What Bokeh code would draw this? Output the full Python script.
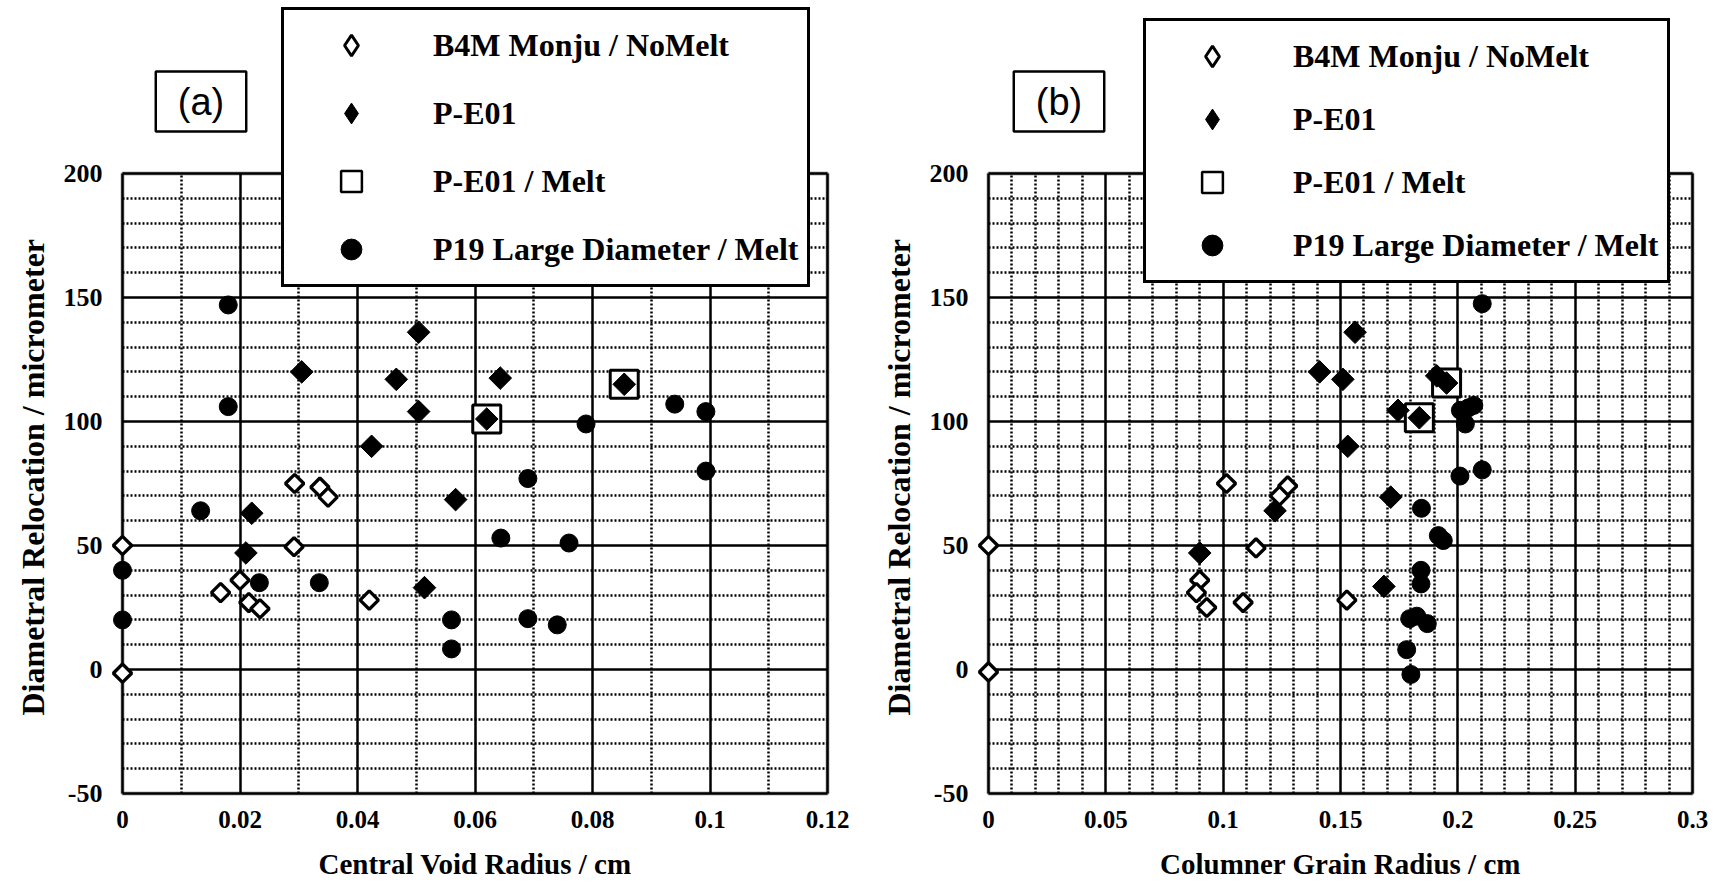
import math
from bokeh.plotting import figure
from bokeh.models import (ColumnDataSource, FixedTicker, Legend, LegendItem, Label, Range1d,
                          BoxAnnotation, Title)
from bokeh.layouts import row
from bokeh.embed import file_html
from bokeh.resources import INLINE

# ---------------- data : panel (a) Central Void Radius ----------------
a_b4m_x = [0, 0, 0.0293, 0.0336, 0.0350, 0.0292, 0.0200, 0.0167, 0.0215, 0.0234, 0.0420]
a_b4m_y = [50, -1.5, 75, 73.5, 69.5, 49.5, 36, 31, 27, 24.5, 28]

a_pe01_x = [0.0305, 0.0504, 0.0466, 0.0504, 0.0424, 0.0643, 0.0567, 0.0220, 0.0210, 0.0514, 0.0620, 0.0854]
a_pe01_y = [120, 136, 117, 104, 90, 117.5, 68.5, 63, 47, 33, 101, 115]

a_melt_x = [0.0620, 0.0854]
a_melt_y = [101, 115]

a_p19_x = [0.0180, 0.0180, 0.0133, 0, 0, 0.0233, 0.0335, 0.0560, 0.0560, 0.0690, 0.0740,
           0.0644, 0.0760, 0.0690, 0.0789, 0.0940, 0.0993, 0.0993]
a_p19_y = [147, 106, 64, 40, 20, 35, 35, 20, 8.3, 20.5, 18, 53, 51, 77, 99, 107, 104, 80]

# ---------------- data : panel (b) Columner Grain Radius ----------------
b_b4m_x = [0, 0, 0.1014, 0.1275, 0.1240, 0.1140, 0.0900, 0.0886, 0.0930, 0.1085, 0.1527]
b_b4m_y = [50, -1, 75, 74, 70, 49, 36, 31, 25, 27, 28]

b_pe01_x = [0.1411, 0.1562, 0.1510, 0.1531, 0.1745, 0.1910, 0.1836, 0.1952, 0.1714, 0.1685, 0.1221, 0.0900]
b_pe01_y = [120, 136, 117, 90, 104.5, 118.4, 101.5, 115.5, 69.5, 33.5, 64, 47]

b_melt_x = [0.1836, 0.1952]
b_melt_y = [101.5, 115.5]

b_p19_x = [0.2104, 0.2068, 0.2045, 0.2011, 0.2032, 0.2104, 0.2009, 0.1845, 0.1917, 0.1938,
           0.1843, 0.1843, 0.1795, 0.1825, 0.1870, 0.1782, 0.1800]
b_p19_y = [147.5, 106.5, 105.5, 104.5, 99, 80.5, 78, 65, 54, 52, 40, 34.5, 20.5, 21.5, 18.5, 8, -2]

# ---------------- axes ----------------
a_x_ticks = [0, 0.02, 0.04, 0.06, 0.08, 0.1, 0.12]
a_x_labels = ["0", "0.02", "0.04", "0.06", "0.08", "0.1", "0.12"]
a_x_minor = [0.01, 0.03, 0.05, 0.07, 0.09, 0.11]

b_x_ticks = [0, 0.05, 0.1, 0.15, 0.2, 0.25, 0.3]
b_x_labels = ["0", "0.05", "0.1", "0.15", "0.2", "0.25", "0.3"]
b_x_minor = [0.01, 0.02, 0.03, 0.04, 0.06, 0.07, 0.08, 0.09, 0.11, 0.12, 0.13, 0.14,
             0.16, 0.17, 0.18, 0.19, 0.21, 0.22, 0.23, 0.24, 0.26, 0.27, 0.28, 0.29]

y_ticks = [-50, 0, 50, 100, 150, 200]
y_labels = ["-50", "0", "50", "100", "150", "200"]
y_minor = [-40, -30, -20, -10, 10, 20, 30, 40, 60, 70, 80, 90,
           110, 120, 130, 140, 160, 170, 180, 190]

legend_labels = ["B4M Monju / NoMelt", "P-E01", "P-E01 / Melt", "P19 Large Diameter / Melt"]

SERIF = "Liberation Serif"

# layout (pixels)
BOX_H = 620      # height of the plotting box (-50 .. 200)
TOP_SPACE = 173  # free space above the box (legend / panel tag live here)
PAD = 8          # frame margin around the box
Y0, Y1 = -50, 200
NAN = float("nan")


def make_panel(tag, xlabel, x_ticks, x_labels, x_minor, x_end,
               b4m, pe01, melt, p19, box_w, border_left, border_right,
               leg_loc, leg_pad, leg_spacing, leg_gw, leg_stand, tag_x):
    xpx = x_end / box_w
    ypx = (Y1 - Y0) / BOX_H
    p = figure(frame_width=box_w + 2 * PAD, frame_height=BOX_H + PAD + TOP_SPACE,
               min_border_left=border_left, min_border_right=border_right,
               min_border_top=0, min_border_bottom=83,
               x_range=Range1d(-PAD * xpx, x_end + PAD * xpx),
               y_range=Range1d(Y0 - PAD * ypx, Y1 + TOP_SPACE * ypx),
               output_backend="svg", toolbar_location=None,
               background_fill_color="white", border_fill_color="white")
    p.outline_line_color = None

    xt = FixedTicker(ticks=x_ticks, minor_ticks=x_minor)
    yt = FixedTicker(ticks=y_ticks, minor_ticks=y_minor)
    p.xaxis.ticker = xt
    p.yaxis.ticker = yt
    p.xgrid.ticker = xt
    p.ygrid.ticker = yt
    p.xaxis.major_label_overrides = dict(zip(x_ticks, x_labels))
    p.yaxis.major_label_overrides = dict(zip(y_ticks, y_labels))
    p.xgrid.cross_bounds = (Y0, Y1)
    p.ygrid.cross_bounds = (0, x_end)

    for g in (p.xgrid, p.ygrid):
        g.grid_line_color = "black"
        g.grid_line_width = 2.5
        g.grid_line_alpha = 1
        g.minor_grid_line_color = "black"
        g.minor_grid_line_width = 2.5
        g.minor_grid_line_dash = "2 2"

    # plotting box outline
    p.add_layout(BoxAnnotation(left=0, right=x_end, bottom=Y0, top=Y1,
                               fill_color=None, line_color="black", line_width=4))

    for ax in (p.xaxis, p.yaxis):
        ax.axis_line_color = None
        ax.major_tick_line_color = None
        ax.minor_tick_line_color = None
        ax.major_label_text_font = SERIF
        ax.major_label_text_font_style = "bold"
        ax.major_label_text_color = "black"
        ax.axis_label_text_font = SERIF
        ax.axis_label_text_font_style = "bold"
        ax.axis_label_text_color = "black"

    p.xaxis.axis_label = xlabel
    p.xaxis.axis_label_text_font_size = "29px"
    p.xaxis.major_label_text_font_size = "25px"
    p.xaxis.major_label_standoff = 3
    p.xaxis.axis_label_standoff = 17

    p.yaxis.major_label_text_font_size = "26px"
    p.yaxis.major_label_standoff = 6
    ytitle = Title(text="Diametral Relocation / micrometer", align="left", vertical_align="top",
                   offset=86, standoff=16, text_font=SERIF, text_font_style="bold",
                   text_font_size="32px", text_color="black")
    p.add_layout(ytitle, "left")

    # data points
    p.scatter(x=p19[0], y=p19[1], marker="circle", size=18,
              fill_color="black", line_color="black", level="overlay")
    p.scatter(x=b4m[0], y=b4m[1], marker="square", angle=math.pi / 4, size=13,
              fill_color="white", line_color="black", line_width=3.3, level="overlay")
    p.scatter(x=melt[0], y=melt[1], marker="square", size=28,
              fill_color="white", line_color="black", line_width=3, level="overlay")
    p.scatter(x=pe01[0], y=pe01[1], marker="square", angle=math.pi / 4, size=16,
              fill_color="black", line_color="black", line_width=1, level="overlay")

    # legend-only glyphs (NaN position: never drawn in the plot area)
    proxy = dict(x=[NAN], y=[NAN])
    l1 = p.scatter("x", "y", source=ColumnDataSource(proxy), marker="diamond",
                   fill_color="white", line_color="black", line_width=3)
    l2 = p.scatter("x", "y", source=ColumnDataSource(proxy), marker="diamond",
                   fill_color="black", line_color="black")
    l3 = p.scatter("x", "y", source=ColumnDataSource(proxy), marker="square",
                   fill_color="white", line_color="black", line_width=2.5)
    l4 = p.scatter("x", "y", source=ColumnDataSource(proxy), marker="circle",
                   fill_color="black", line_color="black")
    items = [LegendItem(label=lab, renderers=[r])
             for lab, r in zip(legend_labels, [l1, l2, l3, l4])]
    legend = Legend(items=items, location=leg_loc, orientation="vertical",
                    border_line_color="black", border_line_width=3, border_line_alpha=1,
                    background_fill_color="white", background_fill_alpha=1,
                    padding=leg_pad, spacing=leg_spacing, margin=0,
                    glyph_width=leg_gw, glyph_height=52, label_height=52,
                    label_standoff=leg_stand,
                    label_text_font=SERIF, label_text_font_style="bold",
                    label_text_font_size="32px", label_text_color="black")
    p.add_layout(legend, "center")

    tag_label = Label(x=tag_x, y=700, x_units="screen", y_units="screen", text=tag,
                      text_font="Liberation Sans", text_font_size="38px",
                      text_align="center", text_baseline="middle", text_color="black",
                      background_fill_color="white", border_line_color="black",
                      border_line_width=2.5, padding=(22, 9))
    p.add_layout(tag_label)
    return p


pa = make_panel("(a)", "Central Void Radius / cm", a_x_ticks, a_x_labels, a_x_minor, 0.12,
                (a_b4m_x, a_b4m_y), (a_pe01_x, a_pe01_y), (a_melt_x, a_melt_y), (a_p19_x, a_p19_y),
                705, 114, 27, (167, 514), 9, 16, 116, 24, 86.5)
pb = make_panel("(b)", "Columner Grain Radius / cm", b_x_ticks, b_x_labels, b_x_minor, 0.3,
                (b_b4m_x, b_b4m_y), (b_pe01_x, b_pe01_y), (b_melt_x, b_melt_y), (b_p19_x, b_p19_y),
                704, 118, 24, (163, 518), 9, 11, 114, 24, 78.5)

layout = row(pa, pb, spacing=0)
open("out.html", "w").write(file_html(layout, INLINE))
